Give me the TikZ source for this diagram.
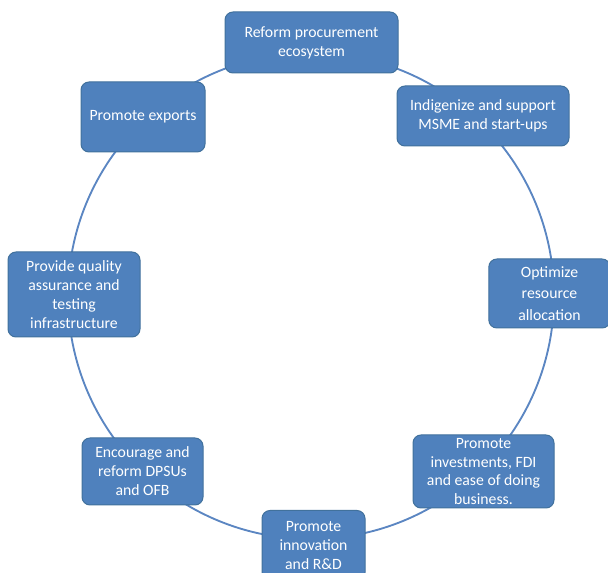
\documentclass[tikz,border=0pt]{standalone}
\usepackage{fontspec}
\setmainfont{Carlito}
\definecolor{boxfill}{HTML}{4F81BD}
\definecolor{boxline}{HTML}{41719C}
\definecolor{ring}{HTML}{5B86C2}
\begin{document}
\begin{tikzpicture}[x=0.75pt,y=-0.75pt,
  stage/.style={draw=boxline, line width=0.75pt, fill=boxfill, rounded corners=6pt,
    text=white, align=center, inner sep=2pt,
    font=\fontsize{11.8pt}{14.2pt}\selectfont},
  ringline/.style={draw=ring, line width=1.4pt}]
\useasboundingbox (0,0) rectangle (608,573);
\coordinate (c) at (311,296);
\draw[ringline] (c) circle [radius=182.25pt];
\node[stage, minimum width=129.75pt, minimum height=45.75pt] (n1) at (311.5,42.5) {Reform procurement\\ecosystem};
\node[stage, minimum width=129pt, minimum height=45pt] (n2) at (483,116) {Indigenize and support\\MSME and start-ups};
\node[stage, minimum width=91pt, minimum height=51.75pt, font=\fontsize{11.8pt}{16pt}\selectfont] (n3) at (549.5,293.5) {Optimize\\resource\\allocation};
\node[stage, minimum width=105.75pt, minimum height=54.75pt] (n4) at (483.5,471.5) {Promote\\investments, FDI\\and ease of doing\\business.};
\node[stage, minimum width=77.25pt, minimum height=52.5pt, anchor=north] (n5) at (313.5,510) {Promote\\innovation\\and R\&D};
\node[stage, minimum width=90.75pt, minimum height=50.25pt] (n6) at (142.5,471.5) {Encourage and\\reform DPSUs\\and OFB};
\node[stage, minimum width=99pt, minimum height=63.75pt] (n7) at (74,294.5) {Provide quality\\assurance and\\testing\\infrastructure};
\node[stage, minimum width=93pt, minimum height=52.5pt] (n8) at (143,117) {Promote exports};
\end{tikzpicture}
\end{document}
